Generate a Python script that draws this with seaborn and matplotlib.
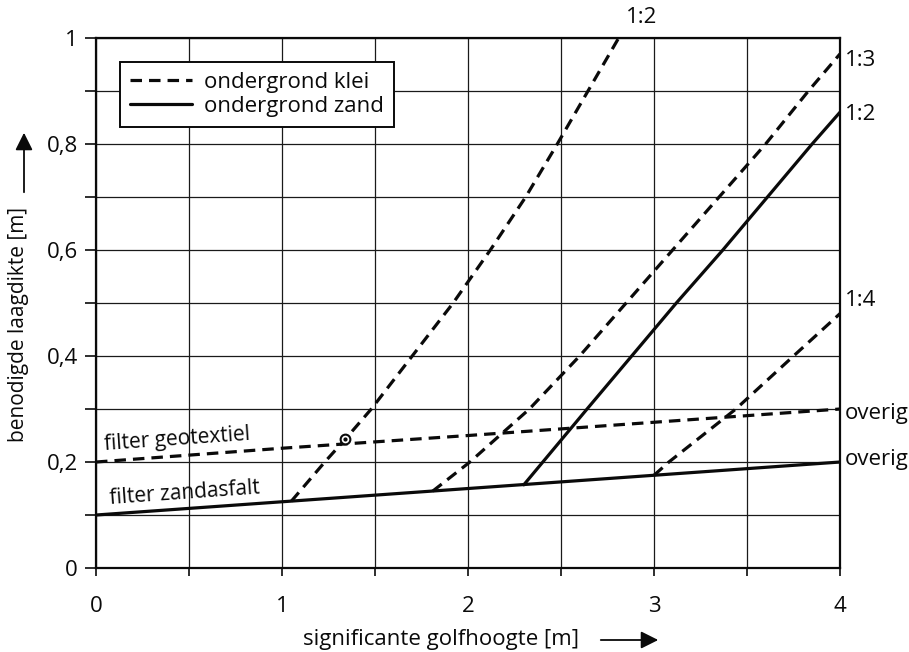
import matplotlib
matplotlib.use("Agg")
import matplotlib.pyplot as plt
import numpy as np
import pandas as pd
import seaborn as sns
from matplotlib.lines import Line2D
from matplotlib.patches import FancyArrowPatch
from matplotlib.ticker import MultipleLocator, FuncFormatter

# filter lines
geo_x = [0, 1, 2, 3, 4]
geo_y = [0.200, 0.226, 0.250, 0.275, 0.300]
zandasfalt_x = [0, 1, 2, 3, 4]
zandasfalt_y = [0.100, 0.125, 0.150, 0.175, 0.200]

# slope lines
klei12_x = [1.05, 1.23, 1.34, 1.48, 1.70, 1.92, 2.12, 2.31, 2.48, 2.645, 2.81]
klei12_y = [0.126, 0.20, 0.243, 0.30, 0.40, 0.50, 0.60, 0.70, 0.80, 0.90, 1.00]
klei13_x = [1.81, 2.01, 2.33, 2.60, 2.85, 3.10, 3.35, 3.60, 3.83, 4.0]
klei13_y = [0.145, 0.20, 0.30, 0.40, 0.50, 0.60, 0.70, 0.80, 0.90, 0.97]
zand12_x = [2.30, 2.64, 2.88, 3.12, 3.37, 3.61, 3.85, 4.0]
zand12_y = [0.157, 0.30, 0.40, 0.50, 0.60, 0.70, 0.80, 0.86]
klei14_x = [3.00, 3.08, 3.44, 3.75, 4.0]
klei14_y = [0.175, 0.20, 0.30, 0.40, 0.48]

point_x = [1.34]
point_y = [0.243]

curves = [
    ("geotextiel", "ondergrond klei", geo_x, geo_y),
    ("zandasfalt", "ondergrond zand", zandasfalt_x, zandasfalt_y),
    ("klei 1:2", "ondergrond klei", klei12_x, klei12_y),
    ("klei 1:3", "ondergrond klei", klei13_x, klei13_y),
    ("zand 1:2", "ondergrond zand", zand12_x, zand12_y),
    ("klei 1:4", "ondergrond klei", klei14_x, klei14_y),
]

rows = []
for name, grond, xs, ys in curves:
    for x, y in zip(xs, ys):
        rows.append({"x": x, "y": y, "curve": name, "ondergrond": grond})
df = pd.DataFrame(rows)

sns.set_theme(style="white")
plt.rcParams["font.family"] = ["Open Sans", "DejaVu Sans"]
plt.rcParams["font.size"] = 15

ink = "#0a0a0a"
fig = plt.figure(figsize=(9.09, 6.52), dpi=100)
ax = fig.add_axes([0.1056, 0.1288, 0.8185, 0.8129])

dash = (3.6, 2.2)
sns.lineplot(data=df, x="x", y="y", units="curve", style="ondergrond",
             estimator=None, sort=False, color=ink, linewidth=2.3,
             dashes={"ondergrond klei": dash, "ondergrond zand": ""},
             legend=False, ax=ax, zorder=3)

ax.plot(point_x, point_y, marker="o", ms=7, mfc="white", mec=ink, mew=1.5,
        ls="none", zorder=4)
ax.plot(point_x, point_y, marker="o", ms=2, color=ink, ls="none", zorder=5)

ax.set_xlim(0, 4)
ax.set_ylim(0, 1)
ax.xaxis.set_major_locator(MultipleLocator(1))
ax.xaxis.set_minor_locator(MultipleLocator(0.5))
ax.yaxis.set_major_locator(MultipleLocator(0.2))
ax.yaxis.set_minor_locator(MultipleLocator(0.1))
fmt = FuncFormatter(lambda v, p: ("%g" % round(v, 2)).replace(".", ","))
ax.xaxis.set_major_formatter(fmt)
ax.yaxis.set_major_formatter(fmt)
ax.tick_params(which="both", direction="out", width=1.2, color=ink,
               labelsize=16, labelcolor=ink, bottom=True, left=True)
ax.tick_params(axis="x", which="both", length=6, pad=14)
ax.tick_params(axis="y", which="both", length=8, pad=5)
ax.grid(which="both", color="#1a1a1a", linewidth=0.9)
for s in ax.spines.values():
    s.set_color(ink)
    s.set_linewidth(1.6)
ax.set_xlabel("")
ax.set_ylabel("")

# curve labels
lab = dict(fontsize=16, color=ink, clip_on=False)
ax.text(2.935, 1.038, "1:2", ha="center", va="center", **lab)
ax.text(4.025, 0.958, "1:3", ha="left", va="center", **lab)
ax.text(4.025, 0.855, "1:2", ha="left", va="center", **lab)
ax.text(4.025, 0.505, "1:4", ha="left", va="center", **lab)
ax.text(4.025, 0.292, "overig", ha="left", va="center", **lab)
ax.text(4.025, 0.204, "overig", ha="left", va="center", **lab)
ax.text(0.05, 0.213, "filter geotextiel", ha="left", va="bottom", rotation=4,
        rotation_mode="anchor", fontsize=15, color=ink)
ax.text(0.075, 0.112, "filter zandasfalt", ha="left", va="bottom", rotation=4,
        rotation_mode="anchor", fontsize=15, color=ink)

handles = [Line2D([], [], color=ink, lw=2.3, dashes=dash),
           Line2D([], [], color=ink, lw=2.3)]
leg = ax.legend(handles, ["ondergrond klei", "ondergrond zand"], loc="upper left",
                bbox_to_anchor=(0.032, 0.955), borderaxespad=0, fontsize=16,
                frameon=True, fancybox=False, edgecolor=ink, framealpha=1,
                handlelength=2.8, borderpad=0.45, labelspacing=0.15,
                handletextpad=0.55)
leg.get_frame().set_linewidth(1.4)
for t in leg.get_texts():
    t.set_color(ink)

# axis titles with arrows
fig.text(441 / 909, 1 - 639 / 652, "significante golfhoogte [m]", ha="center",
         va="center", fontsize=16, color=ink)
fig.text(19 / 909, 1 - 325 / 652, "benodigde laagdikte [m]", ha="center",
         va="center", rotation=90, fontsize=15, color=ink)
fig.add_artist(FancyArrowPatch(
    (598 / 909, 1 - 640 / 652), (661 / 909, 1 - 640 / 652),
    transform=fig.transFigure, arrowstyle="-|>,head_length=7,head_width=3.5",
    mutation_scale=1.5, color=ink, lw=1.3))
fig.add_artist(FancyArrowPatch(
    (24 / 909, 1 - 195 / 652), (24 / 909, 1 - 130 / 652),
    transform=fig.transFigure, arrowstyle="-|>,head_length=7,head_width=3.5",
    mutation_scale=1.5, color=ink, lw=1.3))

fig.savefig("out.png", dpi=100)
